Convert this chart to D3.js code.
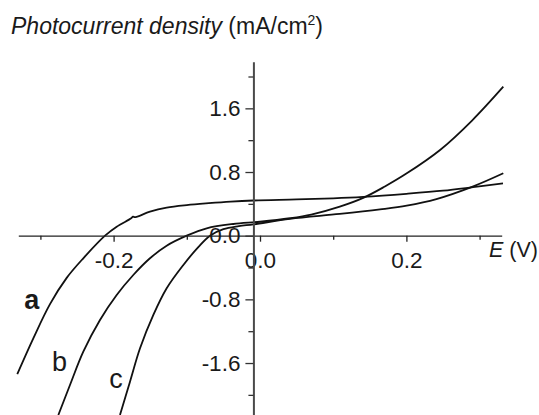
<!DOCTYPE html>
<html>
<head>
<meta charset="utf-8">
<script src="https://cdn.jsdelivr.net/npm/d3@7/dist/d3.min.js"></script>
<style>
  body { margin: 0; background: #fff; }
  svg { display: block; }
  text { font-family: "Liberation Sans", Arial, Helvetica, sans-serif; fill: #1a1a1a; }
</style>
</head>
<body>
<svg id="chart" width="539" height="415"></svg>
<script>
// photocurrent density vs potential, three curves (E in V, J in mA/cm2)
const curveA = [
  [-0.3316, -1.74], [-0.3097, -1.29], [-0.2869, -0.86], [-0.2641, -0.53],
  [-0.2414, -0.284], [-0.2117, 0.0], [-0.1958, 0.113], [-0.1760, 0.218],
  [-0.1735, 0.240], [-0.1712, 0.232], [-0.1503, 0.302], [-0.1275, 0.352],
  [-0.100, 0.384], [-0.070, 0.408], [-0.04, 0.428], [-0.009, 0.442],
  [0.05, 0.456], [0.10, 0.470], [0.141, 0.488], [0.20, 0.526],
  [0.25, 0.565], [0.291, 0.610], [0.332, 0.658]
];
const curveB = [
  [-0.2755, -2.253], [-0.2596, -1.876], [-0.2414, -1.457], [-0.2186, -1.059],
  [-0.1958, -0.745], [-0.1731, -0.494], [-0.1503, -0.284], [-0.1275, -0.126],
  [-0.1001, 0.0], [-0.0728, 0.093], [-0.0365, 0.147], [0.0, 0.175],
  [0.041, 0.219], [0.07, 0.265], [0.109, 0.365], [0.141, 0.475],
  [0.17, 0.615], [0.20, 0.78], [0.246, 1.077], [0.29, 1.45], [0.3324, 1.872]
];
const curveC = [
  [-0.1913, -2.253], [-0.1776, -1.834], [-0.1639, -1.415], [-0.1457, -0.996],
  [-0.1275, -0.661], [-0.1047, -0.368], [-0.084, -0.140], [-0.0683, 0.0],
  [-0.0500, 0.082], [-0.029, 0.120], [-0.009, 0.142], [0.041, 0.212],
  [0.109, 0.273], [0.164, 0.33], [0.2004, 0.377], [0.241, 0.46],
  [0.2914, 0.62], [0.3324, 0.784]
];
const curveNames = ["a", "b", "c"];
// where each curve name sits, in data units (E, J)
const nameAnchors = [[-0.322, -0.92], [-0.284, -1.70], [-0.206, -1.92]];

const xMajor = [-0.2, 0.0, 0.2];
const xMajorLabels = ["-0.2", "0.0", "0.2"];
const xMinor = [-0.3, -0.1, 0.1, 0.3];
const yMajor = [-1.6, -0.8, 0.0, 0.8, 1.6];
const yMajorLabels = ["-1.6", "-0.8", "0.0", "0.8", "1.6"];
const yMinor = [-2.0, -1.2, -0.4, 0.4, 1.2, 2.0];
const yAxisAtE = -0.009;

const svg = d3.select("#chart");

const x = d3.scaleLinear().domain([-0.3302, 0.3302]).range([18.3, 501.7]);
const y = d3.scaleLinear().domain([-2.253, 2.186]).range([415, 61.7]);

const line = d3.line()
  .x(d => x(d[0]))
  .y(d => y(d[1]))
  .curve(d3.curveCatmullRom.alpha(0.5));

// curves
const curves = [curveA, curveB, curveC];
svg.append("g")
  .selectAll("path")
  .data(curves)
  .enter().append("path")
  .attr("d", line)
  .attr("fill", "none")
  .attr("stroke", "#111")
  .attr("stroke-width", 1.8)
  .attr("stroke-linejoin", "round");

// x axis, crossing at J = 0
const xAxisG = svg.append("g").attr("transform", `translate(0,${y(0)})`);
xAxisG.call(d3.axisBottom(x)
  .tickValues(xMajor).tickSize(6).tickPadding(10).tickSizeOuter(0)
  .tickFormat((d, i) => xMajorLabels[i]));
xAxisG.append("g").call(d3.axisBottom(x)
  .tickValues(xMinor).tickSize(4).tickSizeOuter(0).tickFormat(""))
  .select(".domain").remove();
xAxisG.selectAll(".domain").attr("stroke", "#222").attr("stroke-width", 1.3);
xAxisG.selectAll(".tick line").attr("stroke", "#222").attr("stroke-width", 1.3);

// y axis, crossing slightly left of E = 0
const yAxisG = svg.append("g").attr("transform", `translate(${x(yAxisAtE)},0)`);
yAxisG.call(d3.axisLeft(y)
  .tickValues(yMajor).tickSize(8).tickPadding(5).tickSizeOuter(0)
  .tickFormat((d, i) => yMajorLabels[i]));
yAxisG.append("g").call(d3.axisLeft(y)
  .tickValues(yMinor).tickSize(5).tickSizeOuter(0).tickFormat(""))
  .select(".domain").remove();
yAxisG.selectAll(".domain").attr("stroke", "#4a4a4a").attr("stroke-width", 2);
yAxisG.selectAll(".tick line").attr("stroke", "#333").attr("stroke-width", 1.3);

svg.selectAll(".tick text")
  .attr("font-family", null)
  .style("font-size", "22.5px")
  .attr("fill", "#1a1a1a");

// axis titles
const title = svg.append("text")
  .attr("x", 11)
  .attr("y", 34)
  .style("font-size", "23px");
title.append("tspan").attr("font-style", "italic").text("Photocurrent density");
title.append("tspan").text(" (mA/cm");
title.append("tspan").attr("dy", -9).style("font-size", "14px").text("2");
title.append("tspan").attr("dy", 9).text(")");

const eLabel = svg.append("text")
  .attr("x", 489)
  .attr("y", 257)
  .style("font-size", "21.5px");
eLabel.append("tspan").attr("font-style", "italic").text("E");
eLabel.append("tspan").text(" (V)");

// curve names
svg.append("g")
  .selectAll("text")
  .data(curveNames)
  .enter().append("text")
  .attr("x", (d, i) => x(nameAnchors[i][0]))
  .attr("y", (d, i) => y(nameAnchors[i][1]))
  .attr("font-weight", (d, i) => i === 0 ? "bold" : "normal")
  .style("font-size", "27px")
  .text(d => d);
</script>
</body>
</html>
